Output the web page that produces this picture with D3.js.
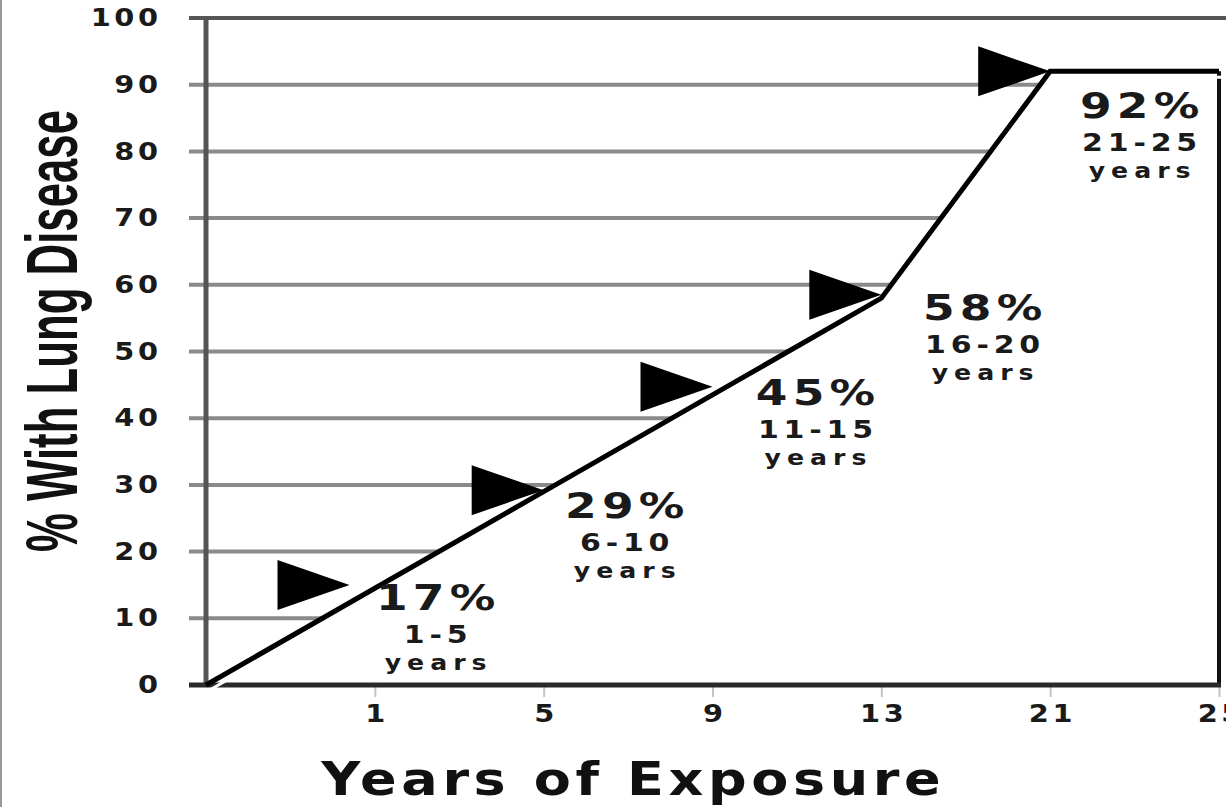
<!DOCTYPE html>
<html lang="en">
<head>
  <meta charset="UTF-8" />
  <title>% With Lung Disease by Years of Exposure</title>
  <script src="https://d3js.org/d3.v7.min.js"></script>
  <style>
    body { margin: 0; background: #fff; }
    svg { display: block; }
    .num { font-family: "DejaVu Sans", sans-serif; font-weight: bold; fill: #1a1a1a; }
  </style>
</head>
<body>
  <svg width="1226" height="807"></svg>

  <script>
    // x positions along the axis (evenly spaced, first one is the origin)
    const xLabels = ["", "1", "5", "9", "13", "21", "25"];
    const yTicks = [0, 10, 20, 30, 40, 50, 60, 70, 80, 90, 100];
    // % along the drawn line at each x position
    const exposure = [0, 14.5, 29, 43.5, 58, 92, 92];

    const groupPct = ["17%", "29%", "45%", "58%", "92%"];
    const groupYears = ["1-5", "6-10", "11-15", "16-20", "21-25"];
    // arrow tips (x index, %)
    const arrowAt = [0.85, 2, 3, 4, 5];
    const arrowVal = [15, 29.2, 44.7, 58.5, 92];
    // label anchors (x index, % at baseline of the big number)
    const labelAt = [1.36, 2.48, 3.61, 4.6, 5.53];
    const labelVal = [11.2, 25, 42, 54.7, 85];

    const svg = d3.select("svg");
    const W = 1226, H = 807;

    const x = d3.scaleLinear().domain([0, 6]).range([206, 1219]);
    const y = d3.scaleLinear().domain([0, 100]).range([685, 18]);

    // thin scan border on the left
    svg.append("line")
      .attr("x1", 1).attr("x2", 1).attr("y1", 0).attr("y2", H)
      .attr("stroke", "#9a9a9a").attr("stroke-width", 2);

    // gridlines
    svg.append("g")
      .selectAll("line")
      .data(yTicks.filter(v => v > 0 && v < 100))
      .join("line")
      .attr("x1", x(0) - 17).attr("x2", x(6))
      .attr("y1", d => y(d)).attr("y2", d => y(d))
      .attr("stroke", "#8a8a8a").attr("stroke-width", 4);

    // blank out everything under the curve
    const pts = exposure.map((v, i) => [i, v]);
    svg.append("path")
      .datum(pts)
      .attr("fill", "#fff")
      .attr("d", d3.area().x(d => x(d[0])).y0(y(0)).y1(d => y(d[1])));

    // top line at 100
    svg.append("line")
      .attr("x1", x(0) - 17).attr("x2", W)
      .attr("y1", y(100)).attr("y2", y(100))
      .attr("stroke", "#555").attr("stroke-width", 4);

    // left axis
    svg.append("line")
      .attr("x1", x(0)).attr("x2", x(0))
      .attr("y1", y(100)).attr("y2", y(0))
      .attr("stroke", "#555").attr("stroke-width", 5);

    // right frame
    svg.append("line")
      .attr("x1", x(6)).attr("x2", x(6))
      .attr("y1", y(92)).attr("y2", y(0) + 2)
      .attr("stroke", "#111").attr("stroke-width", 4);

    // y axis labels
    const yAxis = svg.append("g")
      .attr("transform", `translate(${x(0)},0)`)
      .call(d3.axisLeft(y).tickValues(yTicks).tickSize(0).tickPadding(37));
    yAxis.select(".domain").remove();
    yAxis.selectAll("text")
      .attr("class", "num")
      .attr("font-size", 24)
      .attr("letter-spacing", 3)
      .attr("transform", "scale(1.2,1)");

    // x axis
    const xAxis = svg.append("g")
      .attr("transform", `translate(0,${y(0)})`)
      .call(d3.axisBottom(x).tickValues([1, 2, 3, 4, 5, 6])
        .tickFormat(i => xLabels[i]).tickSize(12).tickPadding(8));
    xAxis.select(".domain").remove();
    xAxis.selectAll("line").attr("stroke", "#c4c4c4").attr("stroke-width", 2);
    xAxis.selectAll("text")
      .attr("class", "num")
      .attr("font-size", 24)
      .attr("letter-spacing", 3)
      .attr("dx", 1.5)
      .attr("transform", "scale(1.2,1)");

    // bottom axis line
    svg.append("line")
      .attr("x1", x(0) - 17).attr("x2", x(6) + 2)
      .attr("y1", y(0)).attr("y2", y(0))
      .attr("stroke", "#2a2a2a").attr("stroke-width", 5);

    // arrows
    svg.append("g")
      .selectAll("path")
      .data(arrowAt.map((a, i) => [a, arrowVal[i]]))
      .join("path")
      .attr("fill", "#000")
      .attr("d", d => {
        const tx = x(d[0]), ty = y(d[1]);
        return `M${tx},${ty}L${tx - 72},${ty - 25}L${tx - 72},${ty + 25}Z`;
      });

    // curve with its light halo
    const line = d3.line().x(d => x(d[0])).y(d => y(d[1]));
    svg.append("path")
      .datum(pts)
      .attr("fill", "none")
      .attr("stroke", "#fff").attr("stroke-width", 3)
      .attr("transform", "translate(2,6)")
      .attr("d", line);
    svg.append("path")
      .datum(pts)
      .attr("fill", "none")
      .attr("stroke", "#000").attr("stroke-width", 5)
      .attr("stroke-linejoin", "miter")
      .attr("d", line);

    // group labels
    const lab = svg.append("g")
      .selectAll("g")
      .data(groupPct.map((p, i) => ({ p, yrs: groupYears[i], at: labelAt[i], v: labelVal[i] })))
      .join("g")
      .attr("transform", d => `translate(${x(d.at)},${y(d.v)})`);

    lab.append("text")
      .attr("class", "num")
      .attr("text-anchor", "middle")
      .attr("font-size", 35)
      .attr("letter-spacing", 4)
      .attr("x", 2)
      .attr("transform", "scale(1.3,1)")
      .text(d => d.p);

    lab.append("text")
      .attr("class", "num")
      .attr("text-anchor", "middle")
      .attr("font-size", 25)
      .attr("letter-spacing", 4)
      .attr("x", 2)
      .attr("y", 33)
      .attr("transform", "scale(1.2,1)")
      .text(d => d.yrs);

    lab.append("text")
      .attr("class", "num")
      .attr("text-anchor", "middle")
      .attr("font-size", 21)
      .attr("letter-spacing", 5)
      .attr("x", 2.5)
      .attr("y", 60)
      .attr("transform", "scale(1.2,1)")
      .text("years");

    // axis titles
    svg.append("text")
      .attr("transform", "translate(77,331) rotate(-90)")
      .attr("text-anchor", "middle")
      .attr("font-family", "Liberation Sans, Arial, sans-serif")
      .attr("font-weight", "bold")
      .attr("font-size", 72)
      .attr("textLength", 442)
      .attr("lengthAdjust", "spacingAndGlyphs")
      .attr("fill", "#111")
      .text("% With Lung Disease");

    svg.append("text")
      .attr("x", 631 / 1.15)
      .attr("y", 795)
      .attr("class", "num")
      .attr("text-anchor", "middle")
      .attr("font-size", 47)
      .attr("letter-spacing", 4)
      .attr("dx", 2)
      .attr("transform", "scale(1.15,1)")
      .style("fill", "#111")
      .text("Years of Exposure");
  </script>
</body>
</html>
